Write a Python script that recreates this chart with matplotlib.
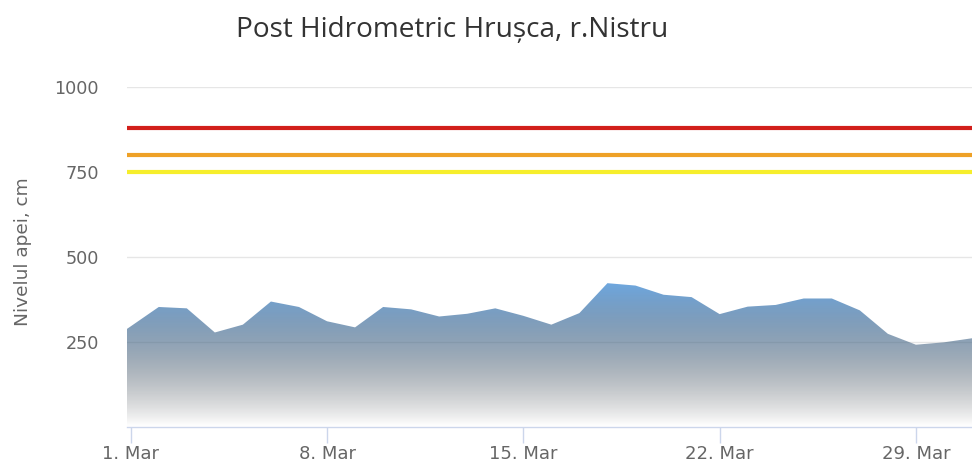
import matplotlib
matplotlib.use('Agg')
import matplotlib.pyplot as plt
import matplotlib.dates as mdates
from matplotlib.colors import to_rgb
import numpy as np
import pandas as pd

# daily water level (first point is 28 Feb, partly outside the plot)
dates = pd.date_range('2021-02-28', '2021-03-31', freq='D')
level_cm = [240, 296, 353, 349, 278, 301, 369, 353, 311, 293, 353, 346,
            325, 333, 349, 327, 301, 335, 423, 416, 389, 382, 332, 354,
            359, 378, 378, 343, 274, 242, 249, 261]

alert_levels = [880, 800, 750]
alert_colors = ['#d21f1b', '#eea127', '#f6ee2c']

tick_dates = pd.to_datetime(['2021-03-01', '2021-03-08', '2021-03-15',
                             '2021-03-22', '2021-03-29'])
tick_labels = ['1. Mar', '8. Mar', '15. Mar', '22. Mar', '29. Mar']
y_ticks = [250, 500, 750, 1000]

W, H = 972, 463
fig = plt.figure(figsize=(W / 100, H / 100), dpi=100)
ax = fig.add_axes([126.7 / W, 1 - 427 / H, 1 - 126.7 / W, (427 - 87) / H])

x = mdates.date2num(dates)
x_start = mdates.date2num(pd.Timestamp('2021-03-01')) - 0.143
ax.set_xlim(x_start, x[-1])
ax.set_ylim(0, 1000)

# gradient fill: series colour fading to transparent black (like the svg)
base = np.array(to_rgb('#6ea7df'))
t = np.linspace(0, 1, 300)[:, None]
rgba = np.zeros((300, 1, 4))
rgba[:, 0, :3] = (1 - t) * base
rgba[:, 0, 3] = (1 - t[:, 0])
poly = ax.fill_between(x, level_cm, 0, facecolor='none', edgecolor='none')
img = ax.imshow(rgba, extent=[x[0], x[-1], 0, max(level_cm)], aspect='auto',
                origin='upper', zorder=2, interpolation='bilinear')
img.set_clip_path(poly.get_paths()[0], ax.transData)

for lvl, col in zip(alert_levels, alert_colors):
    ax.axhline(lvl, color=col, lw=3, zorder=3)

ax.set_yticks(y_ticks)
ax.yaxis.grid(True, color='#e6e6e6', lw=1)
ax.set_axisbelow(True)
ax.tick_params(axis='y', length=0, pad=20, labelsize=12.7, labelcolor='#666666')

ax.set_xticks(mdates.date2num(tick_dates))
ax.set_xticklabels(tick_labels)
ax.tick_params(axis='x', length=11.5, width=1, color='#ccd6eb', pad=1.5,
               labelsize=13, labelcolor='#666666')

for s in ['top', 'right', 'left']:
    ax.spines[s].set_visible(False)
ax.spines['bottom'].set_color('#ccd6eb')
ax.spines['bottom'].set_linewidth(1)

fig.text(23 / W, 1 - 252 / H, 'Nivelul apei, cm', rotation=90, ha='center',
         va='center', fontsize=13.3, color='#666666')
fig.text(452 / W, 1 - 37 / H, 'Post Hidrometric Hrușca, r.Nistru',
         ha='center', va='baseline', fontsize=20.2, color='#333333',
         family='Open Sans')

fig.savefig('out.png', dpi=100)
